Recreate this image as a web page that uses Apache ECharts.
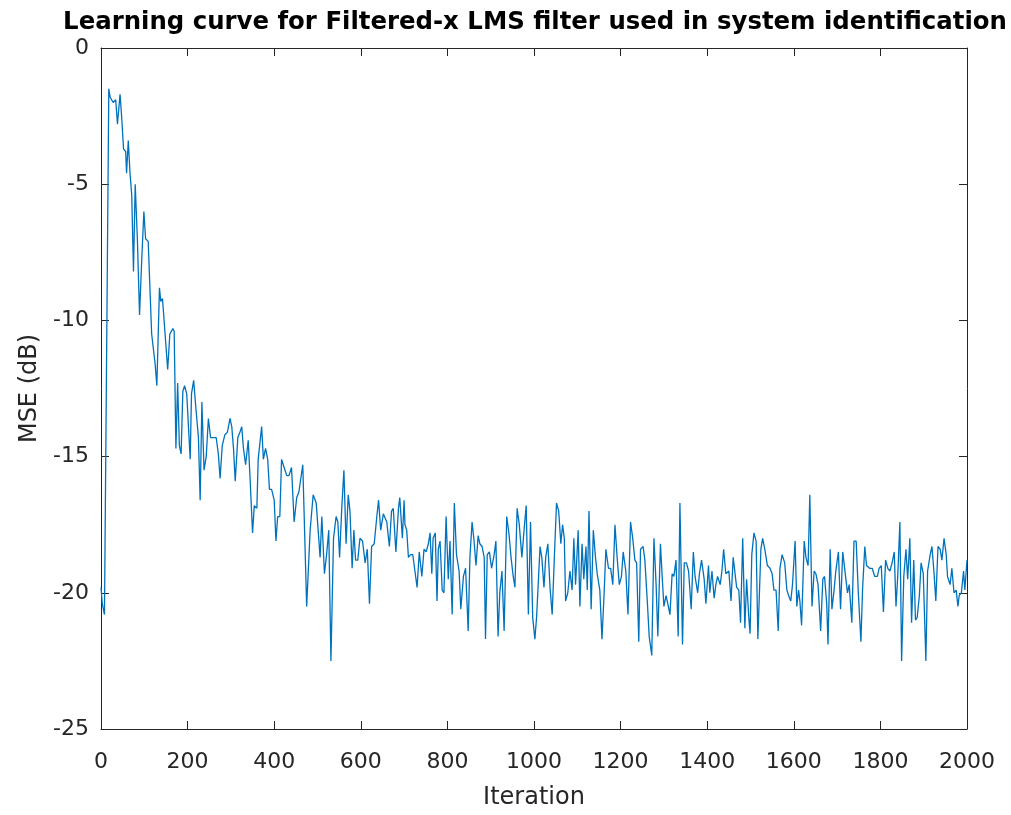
<!DOCTYPE html>
<html>
<head>
<meta charset="utf-8">
<script src="https://cdn.jsdelivr.net/npm/echarts@6/dist/echarts.min.js"></script>
<style>html,body{margin:0;padding:0;background:#fff;}#chart{width:1011px;height:815px;}</style>
</head>
<body>
<div id="chart"></div>
<script>
const titleText = 'Learning curve for Filtered-x LMS filter used in system identification';
const xName = 'Iteration';
const yName = 'MSE (dB)';
const xTicks = [0, 2000, 200];   // min, max, step
const yTicks = [-25, 0, 5];

const iterations = [
0,3,8,18,21,28,34,38,44,48,52,57,59,63,67,71,75,79,84,89,94,99,103,109,117,125,129,135,138,142,148,154,159,166,169,173,177,181,185,189,193,198,206,209,214,219,225,229,233,238,243,248,253,259,266,271,275,280,286,292,298,302,306,310,316,321,325,329,334,340,344,350,354,360,363,367,371,375,380,385,389,394,400,404,408,413,417,423,429,434,440,446,452,457,466,475,483,490,497,506,510,516,521,526,531,537,543,547,551,556,561,566,571,575,580,584,588,593,598,604,610,615,620,625,631,637,641,646,652,660,666,671,675,681,687,690,696,700,702,706,710,715,720,725,730,735,741,746,751,756,760,764,767,772,776,779,783,788,792,797,802,806,811,816,821,827,831,837,842,848,852,857,861,866,871,875,880,885,888,892,897,902,908,912,917,921,926,931,937,942,947,952,956,961,966,972,977,982,987,992,997,1002,1006,1014,1018,1023,1027,1032,1037,1042,1047,1052,1057,1062,1066,1070,1073,1078,1083,1088,1092,1096,1102,1106,1111,1115,1120,1123,1127,1132,1137,1142,1146,1152,1157,1162,1166,1172,1177,1182,1187,1192,1197,1202,1206,1212,1217,1223,1228,1233,1237,1242,1246,1252,1256,1262,1266,1272,1277,1282,1286,1292,1296,1300,1305,1309,1314,1319,1323,1328,1333,1337,1343,1347,1352,1357,1363,1368,1372,1378,1382,1387,1393,1397,1403,1406,1411,1416,1420,1424,1430,1434,1438,1443,1450,1455,1460,1468,1473,1477,1482,1487,1491,1496,1499,1503,1508,1513,1517,1524,1528,1533,1539,1545,1550,1554,1559,1564,1568,1573,1579,1584,1588,1593,1597,1603,1607,1611,1614,1618,1624,1628,1633,1637,1642,1647,1651,1656,1662,1667,1671,1676,1679,1684,1688,1693,1697,1703,1708,1713,1724,1728,1734,1739,1744,1749,1755,1759,1764,1768,1775,1781,1787,1793,1797,1802,1807,1812,1817,1822,1827,1832,1836,1840,1845,1849,1854,1859,1863,1868,1872,1877,1881,1885,1890,1894,1899,1905,1909,1915,1919,1924,1928,1933,1938,1942,1947,1952,1955,1961,1965,1970,1975,1979,1982,1987,1992,1995,2000
];

const mseDb = [
-19.8,-20.4,-20.8,-1.5,-1.8,-2.0,-1.9,-2.8,-1.7,-2.6,-3.7,-3.8,-4.6,-3.4,-4.6,-5.4,-8.2,-5.0,-7.0,-9.8,-7.8,-6.0,-7.0,-7.1,-10.5,-11.6,-12.4,-8.8,-9.3,-9.2,-10.5,-11.8,-10.5,-10.3,-10.4,-14.7,-12.3,-14.6,-14.9,-12.6,-12.4,-12.7,-15.1,-12.7,-12.2,-13.2,-14.3,-16.6,-13.0,-15.5,-15.0,-13.6,-14.3,-14.3,-14.3,-14.9,-15.8,-14.6,-14.2,-14.1,-13.6,-13.9,-14.7,-15.9,-14.3,-14.1,-13.9,-14.7,-15.3,-14.4,-15.7,-17.8,-16.8,-16.9,-15.1,-15.1,-13.9,-15.1,-14.7,-15.1,-16.2,-16.2,-16.6,-18.1,-17.2,-17.2,-15.1,-15.4,-15.7,-15.7,-15.4,-17.4,-16.5,-16.3,-15.3,-20.5,-17.7,-16.4,-16.7,-18.7,-17.2,-19.3,-18.6,-17.7,-22.5,-18.0,-17.2,-17.4,-18.7,-16.9,-15.5,-18.2,-16.4,-17.0,-19.1,-17.7,-18.8,-18.8,-18.0,-18.1,-18.9,-18.4,-20.4,-18.3,-18.2,-17.2,-16.6,-17.7,-17.1,-17.4,-18.3,-17.0,-16.9,-18.5,-16.9,-16.5,-18.0,-16.6,-17.5,-17.7,-18.7,-18.6,-18.6,-19.2,-19.8,-18.5,-19.4,-18.4,-18.5,-18.2,-17.8,-19.3,-18.0,-17.8,-20.3,-18.4,-18.1,-19.9,-20.0,-17.2,-19.5,-18.1,-20.8,-16.7,-18.6,-19.2,-20.6,-19.4,-19.1,-21.4,-18.7,-17.4,-18.0,-19.0,-17.9,-18.2,-18.3,-18.7,-21.7,-18.6,-18.5,-19.1,-18.6,-18.1,-21.6,-20.0,-19.2,-21.4,-17.2,-17.8,-18.7,-19.4,-19.8,-16.9,-17.5,-18.7,-17.7,-16.8,-20.8,-17.4,-20.9,-21.7,-20.9,-18.3,-18.7,-19.8,-18.7,-18.2,-19.8,-20.8,-18.7,-16.7,-17.0,-18.2,-17.5,-18.0,-20.3,-20.0,-19.2,-19.9,-18.0,-19.7,-17.7,-20.5,-18.2,-19.5,-18.3,-19.9,-17.0,-20.6,-17.7,-18.7,-19.3,-19.9,-21.7,-20.0,-18.4,-19.1,-19.1,-19.7,-17.5,-18.7,-19.7,-19.4,-18.5,-19.2,-20.8,-17.4,-18.0,-18.8,-18.9,-21.8,-18.4,-18.3,-18.8,-20.4,-21.6,-22.3,-18.0,-19.7,-21.6,-18.2,-19.4,-20.5,-20.1,-20.4,-20.8,-19.3,-19.4,-18.8,-21.6,-16.7,-21.9,-18.9,-18.9,-19.2,-20.6,-18.5,-19.4,-20.0,-19.3,-18.8,-19.5,-20.4,-19.0,-20.0,-19.2,-20.2,-19.7,-19.4,-19.7,-19.2,-18.4,-19.3,-19.2,-20.3,-18.7,-19.8,-19.9,-21.1,-18.0,-21.3,-19.5,-20.9,-21.5,-18.6,-17.8,-18.1,-21.7,-18.4,-18.0,-18.4,-19.0,-19.1,-19.3,-19.9,-19.9,-21.4,-19.1,-18.6,-18.9,-19.9,-20.1,-20.3,-19.7,-18.1,-20.5,-19.9,-20.3,-21.2,-18.1,-18.7,-19.0,-16.4,-20.5,-19.2,-19.3,-19.7,-21.4,-19.5,-19.4,-20.4,-21.9,-18.4,-20.6,-19.9,-19.2,-18.5,-20.6,-18.5,-20.0,-19.7,-21.1,-18.1,-18.1,-20.0,-21.8,-19.8,-18.3,-19.0,-19.1,-19.1,-19.4,-19.4,-19.1,-19.0,-20.7,-18.8,-19.1,-19.2,-18.9,-18.5,-20.5,-19.4,-17.4,-22.5,-19.4,-18.4,-19.5,-18.0,-21.1,-18.8,-21.0,-20.9,-20.1,-18.9,-19.3,-22.5,-19.2,-18.6,-18.3,-19.3,-20.3,-18.3,-18.4,-18.8,-18.0,-18.6,-19.4,-19.7,-19.1,-20.0,-19.9,-20.5,-20.1,-20.0,-19.2,-19.9,-18.8
];

const FONT = 'DejaVu Sans';
const AX = '#262626';
const chart = echarts.init(document.getElementById('chart'), null, {renderer: 'canvas'});

const baseX = {
  type: 'value', min: xTicks[0], max: xTicks[1], interval: xTicks[2],
  axisLine: {show: true, onZero: false, lineStyle: {color: AX, width: 1}},
  axisTick: {show: true, inside: true, length: 8, lineStyle: {color: AX}},
  splitLine: {show: false}
};
const baseY = {
  type: 'value', min: yTicks[0], max: yTicks[1], interval: yTicks[2],
  axisLine: {show: true, onZero: false, lineStyle: {color: AX, width: 1}},
  axisTick: {show: true, inside: true, length: 8, lineStyle: {color: AX}},
  splitLine: {show: false}
};

chart.setOption({
  animation: false,
  backgroundColor: '#fff',
  title: {
    text: titleText, left: 530, top: 6, textAlign: 'center',
    textStyle: {fontFamily: FONT, fontSize: 24.4, fontWeight: 'bold', color: '#000'}
  },
  grid: {left: 101, right: 44, top: 48, bottom: 82, containLabel: false},
  xAxis: [
    Object.assign({}, baseX, {
      position: 'bottom', name: xName, nameLocation: 'middle', nameGap: 57,
      nameTextStyle: {fontFamily: FONT, fontSize: 24, color: AX},
      axisLabel: {show: true, margin: 22, fontFamily: FONT, fontSize: 22, color: AX,
                  formatter: v => String(v)}
    }),
    Object.assign({}, baseX, {position: 'top', axisLabel: {show: false}})
  ],
  yAxis: [
    Object.assign({}, baseY, {
      position: 'left', name: yName, nameLocation: 'middle', nameGap: 57, nameRotate: 90,
      nameTextStyle: {fontFamily: FONT, fontSize: 24, color: AX},
      axisLabel: {show: true, margin: 12, fontFamily: FONT, fontSize: 22, color: AX,
                  formatter: v => String(v)}
    }),
    Object.assign({}, baseY, {position: 'right', axisLabel: {show: false}})
  ],
  series: [{
    type: 'line',
    xAxisIndex: 0, yAxisIndex: 0,
    data: iterations.map((it, i) => [it, mseDb[i]]),
    showSymbol: false,
    lineStyle: {color: '#0072BD', width: 1.3},
    itemStyle: {color: '#0072BD'}
  }]
});
</script>
</body>
</html>
